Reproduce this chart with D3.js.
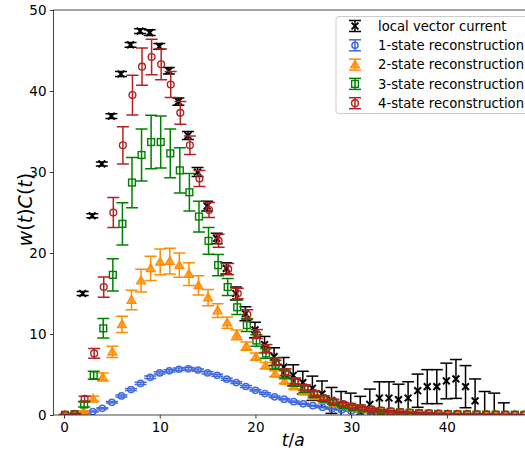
<!DOCTYPE html>
<html>
<head>
<meta charset="utf-8">
<script src="https://cdn.jsdelivr.net/npm/d3@7"></script>
<style>
  body { margin: 0; background: #fff; }
  svg { display: block; font-family: "DejaVu Sans", sans-serif; }
</style>
</head>
<body>
<svg id="chart" width="525" height="455"></svg>
<script>
// time slices t/a
const times = [0, 1, 2, 3, 4, 5, 6, 7, 8, 9, 10, 11, 12, 13, 14, 15, 16, 17, 18, 19, 20,
  21, 22, 23, 24, 25, 26, 27, 28, 29, 30, 31, 32, 33, 34, 35, 36, 37, 38, 39, 40,
  41, 42, 43, 44, 45, 46, 47, 48]

// local vector current (no data at t = 0, 1)
const lvc = [null, null, 15.0, 24.6, 31.0, 36.9, 42.1, 45.7, 47.4, 47.2, 45.5, 42.5, 38.7,
  34.5, 30.0, 25.8, 21.8, 18.1, 15.0, 12.5, 10.5, 8.7, 7.2, 5.9, 4.9, 4.0, 3.3, 2.6,
  1.8, 1.2, 0.9, 0.4, 1.3, 2.1, 2.1, 1.9, 2.1, 3.0, 3.5, 3.5, 4.2, 4.45, 3.5, 1.75,
  -0.5, -0.8, -1.0, -2.5, -3.0]
const lvcErr = [null, null, 0.25, 0.25, 0.25, 0.3, 0.3, 0.3, 0.3, 0.35, 0.35, 0.4, 0.45,
  0.5, 0.55, 0.6, 0.65, 0.7, 0.8, 0.85, 0.95, 1.0, 1.1, 1.2, 1.3, 1.4, 1.5, 1.6,
  1.6, 1.7, 1.8, 1.9, 1.9, 2.0, 2.0, 1.9, 2.0, 2.05, 2.1, 2.1, 2.2, 2.4, 2.6, 2.7,
  3.4, 3.5, 2.5, 1.0, 1.0]

const oneState = [0.0, 0.05, 0.2, 0.42, 0.83, 1.57, 2.35, 3.15, 3.9, 4.65, 5.2, 5.45, 5.65,
  5.7, 5.55, 5.2, 4.9, 4.42, 4.0, 3.52, 3.05, 2.65, 2.25, 1.95, 1.65, 1.38, 1.15, 0.95,
  0.78, 0.63, 0.5, 0.4, 0.32, 0.25, 0.2, 0.16, 0.12, 0.1, 0.08, 0.06, 0.05, 0.04,
  0.03, 0.02, 0.02, 0.01, 0.01, 0.01, 0.01]
const oneStateErr = [0.01, 0.02, 0.04, 0.06, 0.08, 0.1, 0.12, 0.13, 0.14, 0.15, 0.15, 0.15,
  0.15, 0.15, 0.14, 0.14, 0.13, 0.12, 0.12, 0.11, 0.1, 0.1, 0.09, 0.08, 0.08, 0.07,
  0.06, 0.06, 0.05, 0.05, 0.04, 0.04, 0.03, 0.03, 0.03, 0.02, 0.02, 0.02, 0.02,
  0.01, 0.01, 0.01, 0.01, 0.01, 0.01, 0.01, 0.01, 0.01, 0.01]

const twoState = [0.01, 0.05, 0.4, 2.0, 4.7, 7.8, 11.2, 14.2, 16.6, 18.1, 18.9, 19.0, 18.5,
  17.4, 16.0, 14.5, 12.9, 11.4, 9.9, 8.5, 7.2, 6.1, 5.1, 4.2, 3.5, 2.85, 2.3, 1.85,
  1.5, 1.2, 0.95, 0.75, 0.6, 0.47, 0.37, 0.29, 0.23, 0.18, 0.14, 0.11, 0.09, 0.07,
  0.055, 0.045, 0.035, 0.03, 0.02, 0.02, 0.01]
const twoStateErr = [0.02, 0.05, 0.1, 0.3, 0.5, 0.7, 1.0, 1.2, 1.4, 1.5, 1.6, 1.6, 1.5,
  1.4, 1.2, 1.0, 0.85, 0.7, 0.6, 0.5, 0.45, 0.4, 0.35, 0.3, 0.27, 0.24, 0.2, 0.18,
  0.15, 0.13, 0.11, 0.1, 0.08, 0.07, 0.06, 0.05, 0.04, 0.04, 0.03, 0.03, 0.02, 0.02,
  0.02, 0.02, 0.01, 0.01, 0.01, 0.01, 0.01]

const threeState = [0.02, 0.1, 1.3, 4.9, 10.7, 17.3, 23.6, 28.7, 32.1, 33.7, 33.7, 32.3,
  30.2, 27.5, 24.5, 21.5, 18.5, 15.8, 13.3, 11.1, 9.2, 7.6, 6.2, 5.0, 4.0, 3.2, 2.55,
  2.0, 1.6, 1.25, 1.0, 0.8, 0.62, 0.5, 0.4, 0.32, 0.26, 0.21, 0.17, 0.14, 0.11, 0.09,
  0.07, 0.06, 0.05, 0.04, 0.03, 0.03, 0.02]
const threeStateErr = [0.05, 0.1, 0.3, 0.5, 1.2, 2.0, 2.6, 3.1, 3.2, 3.3, 3.2, 3.0, 2.8,
  2.3, 1.9, 1.65, 1.3, 1.05, 0.9, 0.8, 0.7, 0.6, 0.55, 0.5, 0.45, 0.4, 0.35, 0.3,
  0.27, 0.24, 0.2, 0.18, 0.15, 0.13, 0.11, 0.1, 0.08, 0.07, 0.06, 0.05, 0.04, 0.04,
  0.03, 0.03, 0.02, 0.02, 0.02, 0.02, 0.01]

const fourState = [0.02, 0.1, 2.0, 7.6, 15.8, 25.0, 33.3, 39.5, 43.0, 44.2, 43.3, 40.8,
  37.3, 33.3, 29.2, 25.3, 21.5, 18.0, 15.0, 12.4, 10.0, 8.2, 6.6, 5.3, 4.2, 3.4, 2.7,
  2.1, 1.7, 1.35, 1.05, 0.85, 0.68, 0.55, 0.45, 0.37, 0.3, 0.25, 0.2, 0.17, 0.14,
  0.12, 0.1, 0.08, 0.07, 0.06, 0.05, 0.04, 0.03]
const fourStateErr = [0.05, 0.1, 0.3, 0.6, 1.25, 1.85, 2.3, 2.45, 2.3, 2.2, 1.9, 1.6, 1.4,
  1.15, 1.0, 0.93, 0.8, 0.7, 0.65, 0.6, 0.55, 0.5, 0.45, 0.4, 0.37, 0.33, 0.3, 0.27,
  0.24, 0.2, 0.18, 0.16, 0.14, 0.12, 0.1, 0.09, 0.08, 0.07, 0.06, 0.05, 0.04, 0.04,
  0.03, 0.03, 0.03, 0.02, 0.02, 0.02, 0.01]

const xTicks = [0, 10, 20, 30, 40]
const yTicks = [0, 10, 20, 30, 40, 50]

// styling per series (shift = small horizontal offset so points don't sit on top of each other)
const series = [
  {label: "local vector current", values: lvc, errors: lvcErr, color: "#000000", marker: "x", shift: -0.05},
  {label: "1-state reconstruction", values: oneState, errors: oneStateErr, color: "#4169e1", marker: "circleSmall", shift: 0},
  {label: "2-state reconstruction", values: twoState, errors: twoStateErr, color: "#ff8c00", marker: "triangle", shift: 0.05},
  {label: "3-state reconstruction", values: threeState, errors: threeStateErr, color: "#008000", marker: "square", shift: 0.1},
  {label: "4-state reconstruction", values: fourState, errors: fourStateErr, color: "#b22222", marker: "circle", shift: 0.15},
]

const plot = {left: 53.5, right: 533, top: 10, bottom: 415}
const capHalf = 6

const svg = d3.select("#chart")

const x = d3.scaleLinear([-1.1, 49], [plot.left, plot.right])
const y = d3.scaleLinear([0, 50], [plot.bottom, plot.top])

svg.append("defs").append("clipPath").attr("id", "clip")
  .append("rect")
  .attr("x", plot.left).attr("y", plot.top)
  .attr("width", plot.right - plot.left).attr("height", plot.bottom - plot.top)

function drawMarker(g, kind, color) {
  if (kind === "x") {
    const s = 3.4
    g.append("path")
      .attr("d", `M${-s},${-s}L${s},${s}M${-s},${s}L${s},${-s}`)
      .attr("stroke", color).attr("stroke-width", 2).attr("fill", "none")
  } else if (kind === "circle") {
    g.append("circle").attr("r", 3.4)
      .attr("stroke", color).attr("stroke-width", 1.4).attr("fill", "none")
  } else if (kind === "circleSmall") {
    g.append("circle").attr("r", 3.1)
      .attr("stroke", color).attr("stroke-width", 1.5).attr("fill", "none")
  } else if (kind === "square") {
    g.append("rect").attr("x", -3.4).attr("y", -3.4).attr("width", 6.8).attr("height", 6.8)
      .attr("stroke", color).attr("stroke-width", 1.4).attr("fill", "none")
  } else if (kind === "triangle") {
    g.append("path").attr("d", "M0,-4.4L4.4,3.3L-4.4,3.3Z")
      .attr("stroke", color).attr("stroke-width", 1.3)
      .attr("fill", color).attr("fill-opacity", 0.75)
  }
}

function drawErrorbar(g, cx, top, bottom, color, half) {
  g.append("line").attr("x1", cx).attr("x2", cx).attr("y1", top).attr("y2", bottom)
    .attr("stroke", color).attr("stroke-width", 1.5)
  for (const cy of [top, bottom]) {
    g.append("line").attr("x1", cx - half).attr("x2", cx + half).attr("y1", cy).attr("y2", cy)
      .attr("stroke", color).attr("stroke-width", 1.5)
  }
}

const dataLayer = svg.append("g").attr("clip-path", "url(#clip)")

series.forEach(s => {
  const g = dataLayer.append("g")
  times.forEach((t, i) => {
    const v = s.values[i]
    if (v === null) return
    const e = s.errors[i]
    const cx = x(t + s.shift)
    drawErrorbar(g, cx, y(v + e), y(v - e), s.color, capHalf)
    const m = g.append("g").attr("transform", `translate(${cx},${y(v)})`)
    drawMarker(m, s.marker, s.color)
  })
})

// axes
const xAxis = d3.axisBottom(x).tickValues(xTicks).tickSize(3.5).tickPadding(3.5)
const yAxis = d3.axisLeft(y).tickValues(yTicks).tickSize(3.5).tickPadding(3.5)

svg.append("g")
  .attr("transform", `translate(0,${plot.bottom})`)
  .call(xAxis)
  .call(g => g.select(".domain").remove())
  .call(g => g.selectAll("text").attr("font-size", 13.5).attr("font-family", "DejaVu Sans").attr("fill", "#000"))
  .call(g => g.selectAll("line").attr("stroke", "#000").attr("stroke-width", 0.8))

svg.append("g")
  .attr("transform", `translate(${plot.left},0)`)
  .call(yAxis)
  .call(g => g.select(".domain").remove())
  .call(g => g.selectAll("text").attr("font-size", 13.5).attr("font-family", "DejaVu Sans").attr("fill", "#000"))
  .call(g => g.selectAll("line").attr("stroke", "#000").attr("stroke-width", 0.8))

// spines
svg.append("rect")
  .attr("x", plot.left).attr("y", plot.top)
  .attr("width", plot.right - plot.left).attr("height", plot.bottom - plot.top)
  .attr("fill", "none").attr("stroke", "#333").attr("stroke-width", 0.9)

// axis labels
const xl = svg.append("text")
  .attr("x", (plot.left + plot.right) / 2).attr("y", 446)
  .attr("text-anchor", "middle").attr("font-size", 17)
xl.append("tspan").attr("font-style", "italic").text("t")
xl.append("tspan").text("/")
xl.append("tspan").attr("font-style", "italic").text("a")

const yl = svg.append("text")
  .attr("transform", `translate(32,${(plot.top + plot.bottom) / 2 - 3}) rotate(-90)`)
  .attr("text-anchor", "middle").attr("font-size", 19)
;[["w", true], ["(", false], ["t", true], [")", false], ["C", true], ["(", false], ["t", true], [")", false]]
  .forEach(([ch, it]) => yl.append("tspan").attr("font-style", it ? "italic" : "normal").text(ch))

// legend
const legend = svg.append("g")
legend.append("rect")
  .attr("x", 336).attr("y", 16.5).attr("width", 200).attr("height", 97).attr("rx", 3)
  .attr("fill", "#fff").attr("fill-opacity", 0.8).attr("stroke", "#cccccc").attr("stroke-width", 1)

series.forEach((s, i) => {
  const cy = 26 + i * 19.3
  const g = legend.append("g")
  drawErrorbar(g, 355, cy - 5.5, cy + 5.5, s.color, capHalf)
  const m = g.append("g").attr("transform", `translate(355,${cy})`)
  drawMarker(m, s.marker, s.color)
  g.append("text").attr("x", 378).attr("y", cy).attr("dy", "0.35em")
    .attr("font-size", 13.2).attr("fill", "#000").text(s.label)
})
</script>
</body>
</html>
